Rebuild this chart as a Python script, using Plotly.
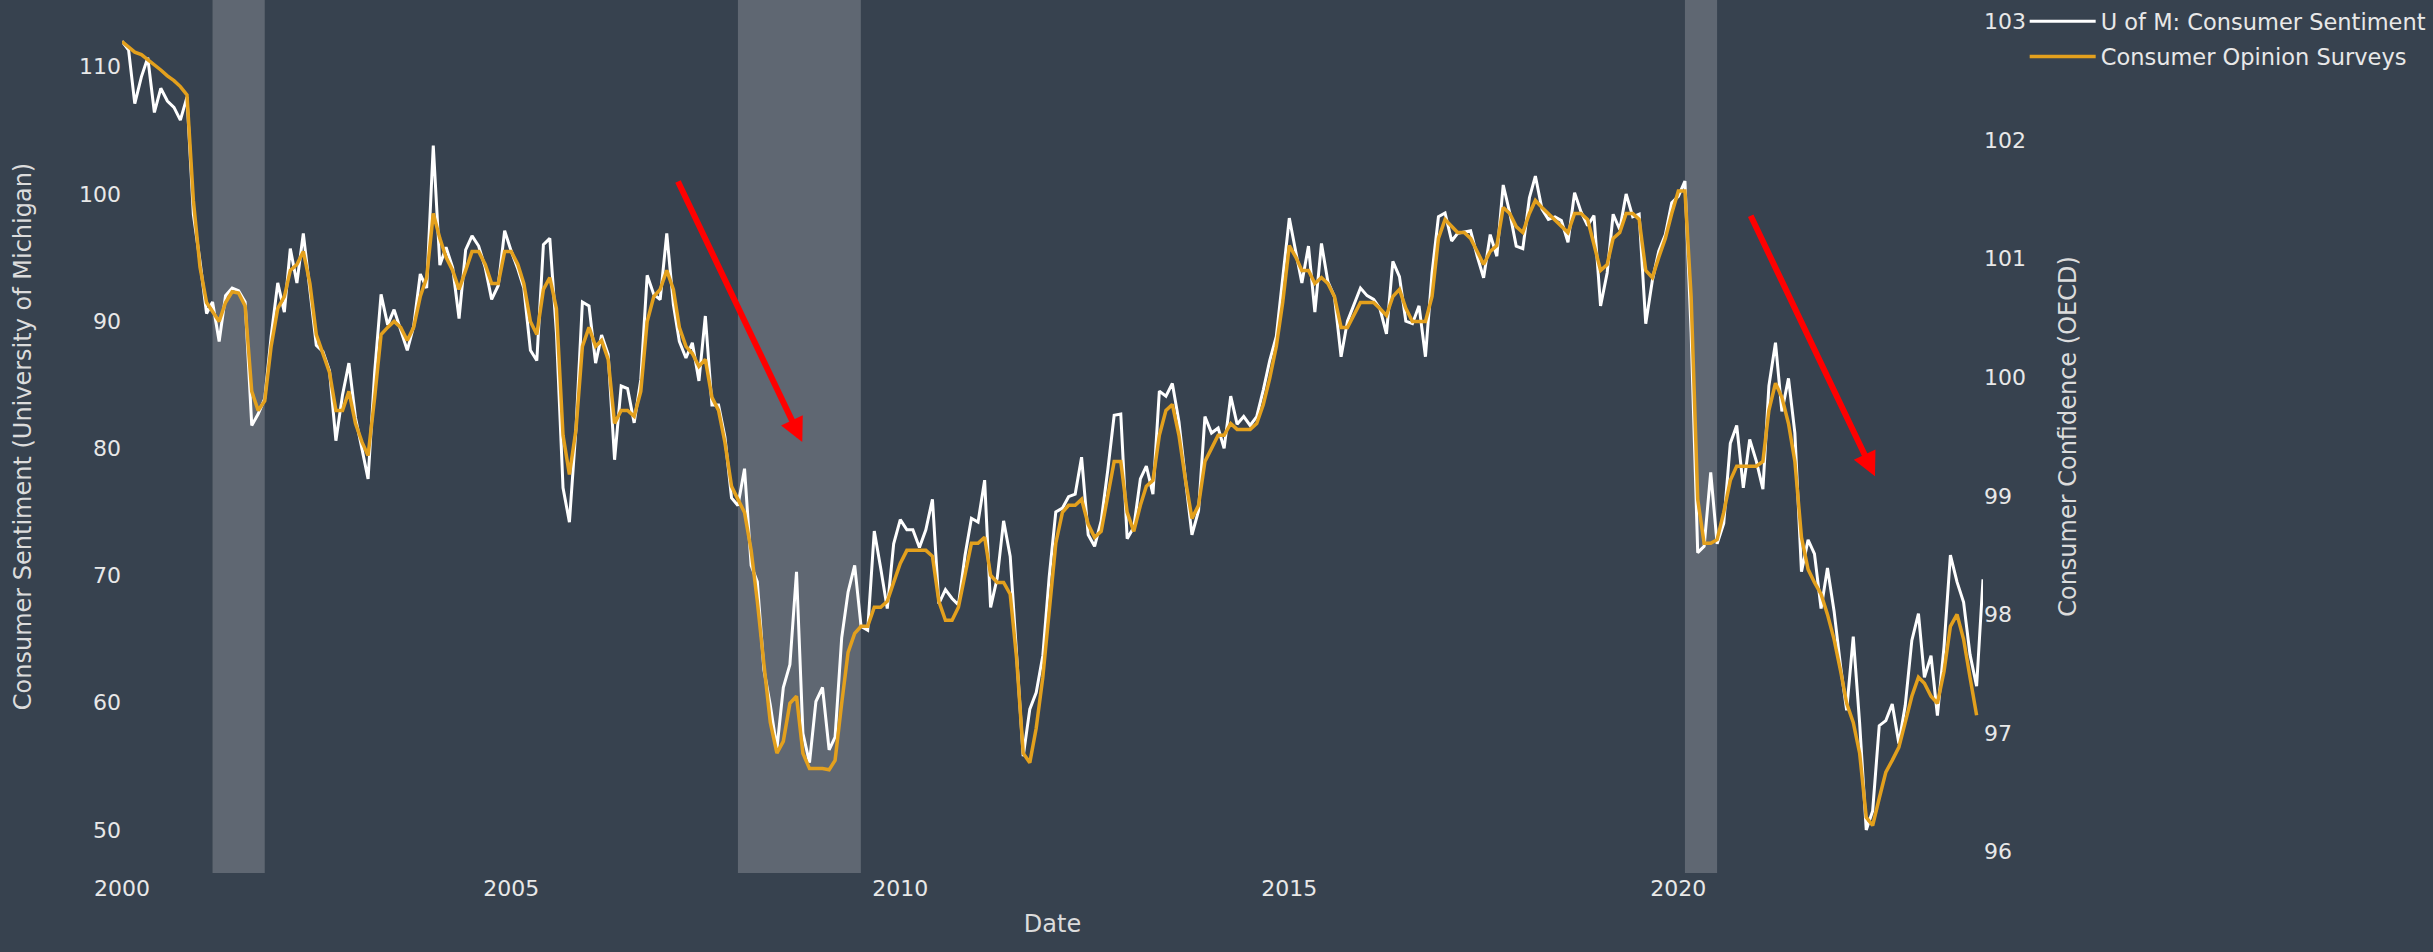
import pandas as pd
import plotly.graph_objects as go

# U of M consumer sentiment, monthly, Jan 2000 - Dec 2023
umich_2000s = [
    112.0, 111.3, 107.1, 109.2, 110.7, 106.4, 108.3, 107.3, 106.8, 105.8, 107.6, 98.4,
    94.7, 90.6, 91.5, 88.4, 92.0, 92.6, 92.4, 91.5, 81.8, 82.7, 83.9, 88.8,
    93.0, 90.7, 95.7, 93.0, 96.9, 92.4, 88.1, 87.6, 86.1, 80.6, 84.2, 86.7,
    82.4, 79.9, 77.6, 86.0, 92.1, 89.7, 90.9, 89.3, 87.7, 89.6, 93.7, 92.6,
    103.8, 94.4, 95.8, 94.2, 90.2, 95.6, 96.7, 95.9, 94.2, 91.7, 92.8, 97.1,
    95.5, 94.1, 92.6, 87.7, 86.9, 96.0, 96.5, 89.1, 76.9, 74.2, 81.6, 91.5,
    91.2, 86.7, 88.9, 87.4, 79.1, 84.9, 84.7, 82.0, 85.4, 93.6, 92.1, 91.7,
    96.9, 91.3, 88.4, 87.1, 88.3, 85.3, 90.4, 83.4, 83.4, 80.9, 76.1, 75.5,
]
umich_2008_2015 = [
    78.4, 70.8, 69.5, 62.6, 59.8, 56.4, 61.2, 63.0, 70.3, 57.6, 55.3, 60.1,
    61.2, 56.3, 57.3, 65.1, 68.7, 70.8, 66.0, 65.7, 73.5, 70.6, 67.4, 72.5,
    74.4, 73.6, 73.6, 72.2, 73.6, 76.0, 67.8, 68.9, 68.2, 67.7, 71.6, 74.5,
    74.2, 77.5, 67.5, 69.8, 74.3, 71.5, 63.7, 55.8, 59.5, 60.8, 63.7, 69.9,
    75.0, 75.3, 76.2, 76.4, 79.3, 73.2, 72.3, 74.3, 78.3, 82.6, 82.7, 72.9,
    73.8, 77.6, 78.6, 76.4, 84.5, 84.1, 85.1, 82.1, 77.5, 73.2, 75.1, 82.5,
    81.2, 81.6, 80.0, 84.1, 81.9, 82.5, 81.8, 82.5, 84.6, 86.9, 88.8, 93.6,
    98.1, 95.4, 93.0, 95.9, 90.7, 96.1, 93.1, 91.9, 87.2, 90.0, 91.3, 92.6,
]
umich_2016_2023 = [
    92.0, 91.7, 91.0, 89.0, 94.7, 93.5, 90.0, 89.8, 91.2, 87.2, 93.8, 98.2,
    98.5, 96.3, 96.9, 97.0, 97.1, 95.1, 93.4, 96.8, 95.1, 100.7, 98.5, 95.9,
    95.7, 99.7, 101.4, 98.8, 98.0, 98.2, 97.9, 96.2, 100.1, 98.6, 97.5, 98.3,
    91.2, 93.8, 98.4, 97.2, 100.0, 98.2, 98.4, 89.8, 93.2, 95.5, 96.8, 99.3,
    99.8, 101.0, 89.1, 71.8, 72.3, 78.1, 72.5, 74.1, 80.4, 81.8, 76.9, 80.7,
    79.0, 76.8, 84.9, 88.3, 82.9, 85.5, 81.2, 70.3, 72.8, 71.7, 67.4, 70.6,
    67.2, 62.8, 59.4, 65.2, 58.4, 50.0, 51.5, 58.2, 58.6, 59.9, 56.8, 59.8,
    64.9, 67.0, 62.0, 63.7, 59.0, 64.4, 71.6, 69.5, 67.9, 63.8, 61.3, 69.7,
]

# OECD consumer opinion surveys (consumer confidence), monthly, Jan 2000 - Nov 2023
oecd_2000s = [
    102.83, 102.78, 102.74, 102.72, 102.68, 102.63, 102.59, 102.54, 102.50, 102.45, 102.38, 101.49,
    100.93, 100.63, 100.55, 100.47, 100.63, 100.72, 100.71, 100.60, 99.88, 99.72, 99.80, 100.26,
    100.58, 100.68, 100.90, 100.95, 101.06, 100.79, 100.36, 100.20, 100.04, 99.72, 99.72, 99.88,
    99.61, 99.45, 99.34, 99.83, 100.36, 100.42, 100.47, 100.42, 100.31, 100.42, 100.68, 100.84,
    101.38, 101.17, 101.01, 100.90, 100.74, 100.90, 101.06, 101.06, 100.95, 100.79, 100.79, 101.06,
    101.06, 100.95, 100.79, 100.47, 100.36, 100.74, 100.84, 100.58, 99.51, 99.18, 99.56, 100.26,
    100.42, 100.26, 100.31, 100.15, 99.61, 99.72, 99.72, 99.67, 99.88, 100.47, 100.68, 100.74,
    100.90, 100.74, 100.42, 100.26, 100.20, 100.09, 100.15, 99.83, 99.72, 99.45, 99.08, 98.97,
]
oecd_2008_2015 = [
    98.86, 98.54, 98.11, 97.58, 97.09, 96.83, 96.93, 97.25, 97.31, 96.83, 96.70, 96.70,
    96.70, 96.69, 96.77, 97.25, 97.68, 97.84, 97.90, 97.90, 98.06, 98.06, 98.11, 98.27,
    98.43, 98.54, 98.54, 98.54, 98.54, 98.49, 98.11, 97.95, 97.95, 98.06, 98.33, 98.60,
    98.60, 98.65, 98.33, 98.27, 98.27, 98.17, 97.63, 96.83, 96.75, 97.04, 97.47, 98.00,
    98.60, 98.86, 98.92, 98.92, 98.97, 98.76, 98.65, 98.70, 99.02, 99.29, 99.29, 98.86,
    98.70, 98.92, 99.08, 99.13, 99.51, 99.72, 99.77, 99.51, 99.13, 98.81, 98.92, 99.29,
    99.40, 99.51, 99.51, 99.61, 99.56, 99.56, 99.56, 99.61, 99.77, 99.99, 100.26, 100.63,
    101.11, 101.01, 100.90, 100.90, 100.79, 100.84, 100.79, 100.68, 100.42, 100.42, 100.52, 100.63,
]
oecd_2016_2023 = [
    100.63, 100.63, 100.58, 100.52, 100.68, 100.74, 100.58, 100.47, 100.47, 100.47, 100.68, 101.17,
    101.33, 101.27, 101.22, 101.22, 101.17, 101.06, 100.95, 101.06, 101.11, 101.43, 101.38, 101.27,
    101.22, 101.38, 101.49, 101.43, 101.38, 101.33, 101.27, 101.22, 101.38, 101.38, 101.33, 101.11,
    100.90, 100.95, 101.17, 101.22, 101.38, 101.38, 101.33, 100.90, 100.84, 101.01, 101.17, 101.38,
    101.57, 101.57, 100.68, 98.97, 98.60, 98.60, 98.63, 98.86, 99.13, 99.25, 99.25, 99.25,
    99.25, 99.29, 99.72, 99.95, 99.83, 99.61, 99.29, 98.65, 98.38, 98.27, 98.17, 98.00,
    97.79, 97.52, 97.25, 97.09, 96.83, 96.29, 96.22, 96.45, 96.67, 96.77, 96.88, 97.09,
    97.31, 97.47, 97.42, 97.31, 97.25, 97.52, 97.90, 98.00, 97.79, 97.47, 97.15,
]

umich = umich_2000s + umich_2008_2015 + umich_2016_2023
oecd = oecd_2000s + oecd_2008_2015 + oecd_2016_2023
umich_dates = pd.date_range("2000-01-01", periods=len(umich), freq="MS")
oecd_dates = pd.date_range("2000-01-01", periods=len(oecd), freq="MS")

# Recession periods (shaded)
recession_start = ["2001-03-01", "2007-12-01", "2020-02-01"]
recession_end = ["2001-11-01", "2009-06-30", "2020-07-01"]

# Arrow heads (date, sentiment level)
arrow_dates = ["2008-09-28", "2022-07-12"]
arrow_levels = [80.5, 77.8]

BG = "#37424f"
FONT = "Verdana, DejaVu Sans, sans-serif"

fig = go.Figure()
fig.add_trace(go.Scatter(
    x=umich_dates, y=umich, mode="lines", name="U of M: Consumer Sentiment",
    line=dict(color="#ffffff", width=3), yaxis="y", legendgroup="a",
))
fig.add_trace(go.Scatter(
    x=oecd_dates, y=oecd, mode="lines", name="Consumer Opinion Surveys",
    line=dict(color="#e3a01d", width=3.5), yaxis="y2", legendgroup="b",
))

for s, e in zip(recession_start, recession_end):
    fig.add_shape(type="rect", xref="x", yref="paper", x0=s, x1=e, y0=0, y1=1,
                  fillcolor="rgba(255,255,255,0.2)", line=dict(width=0), layer="below")

for d, lv in zip(arrow_dates, arrow_levels):
    fig.add_annotation(x=d, y=lv, xref="x", yref="y", text="", showarrow=True,
                       ax=-125, ay=-262, arrowcolor="#ff0000", arrowwidth=6,
                       arrowhead=2, arrowsize=0.8, standoff=0)

fig.update_layout(
    width=2433, height=952,
    paper_bgcolor=BG, plot_bgcolor=BG,
    margin=dict(l=122, r=450, t=0, b=79),
    font=dict(family=FONT, size=22, color="#e8e8e8"),
    showlegend=True,
    legend=dict(x=1.0224, y=1.0, xanchor="left", yanchor="top", bgcolor=BG,
                font=dict(size=22.5, color="#e8e8e8"), itemwidth=66,
                tracegroupgap=3),
    xaxis=dict(
        type="date", range=["2000-01-01", "2023-12-01"],
        tick0="2000-01-01", dtick="M60", tickformat="%Y",
        showgrid=False, zeroline=False, showline=False,
        title=dict(text="Date", font=dict(size=24, color="#dcdcdc")),
    ),
    yaxis=dict(
        range=[46.62, 115.24], dtick=10, showgrid=False, zeroline=False,
        title=dict(text="Consumer Sentiment (University of Michigan)",
                   font=dict(size=24, color="#dcdcdc"), standoff=40),
    ),
    yaxis2=dict(
        range=[95.82, 103.18], dtick=1, overlaying="y", side="right",
        showgrid=False, zeroline=False,
        title=dict(text="Consumer Confidence (OECD)",
                   font=dict(size=24, color="#dcdcdc"), standoff=34),
    ),
)

fig.write_html("out.html", config={"displayModeBar": False},
               post_script="document.body.style.margin='0';document.body.style.overflow='hidden';")
